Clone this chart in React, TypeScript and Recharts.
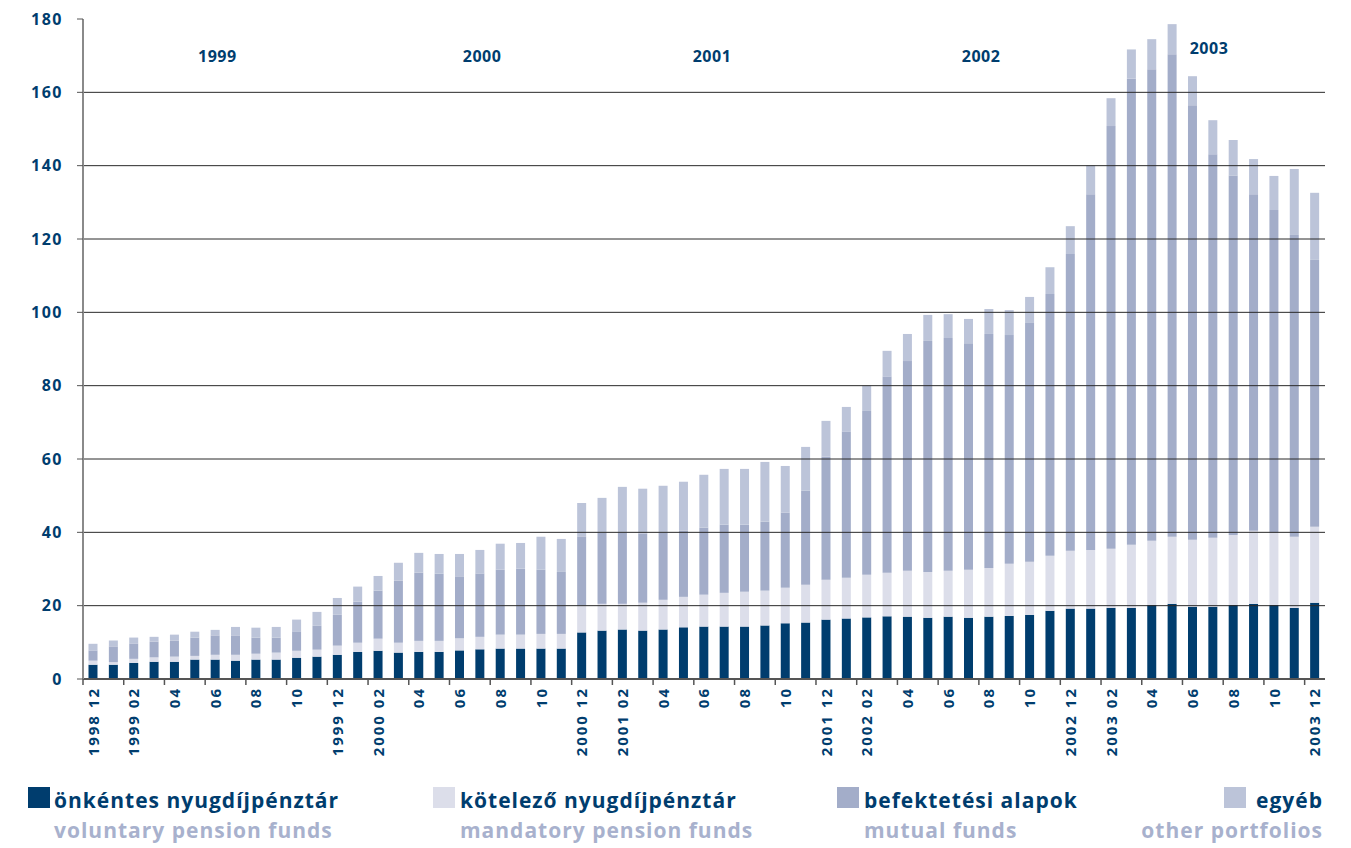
import React from "react";
import { BarChart, Bar, XAxis, YAxis, ReferenceLine, ReferenceDot } from "recharts";

const months = [
  "1998 12",
  "1999 01", "1999 02", "1999 03", "1999 04", "1999 05", "1999 06", "1999 07", "1999 08", "1999 09", "1999 10", "1999 11", "1999 12",
  "2000 01", "2000 02", "2000 03", "2000 04", "2000 05", "2000 06", "2000 07", "2000 08", "2000 09", "2000 10", "2000 11", "2000 12",
  "2001 01", "2001 02", "2001 03", "2001 04", "2001 05", "2001 06", "2001 07", "2001 08", "2001 09", "2001 10", "2001 11", "2001 12",
  "2002 01", "2002 02", "2002 03", "2002 04", "2002 05", "2002 06", "2002 07", "2002 08", "2002 09", "2002 10", "2002 11", "2002 12",
  "2003 01", "2003 02", "2003 03", "2003 04", "2003 05", "2003 06", "2003 07", "2003 08", "2003 09", "2003 10", "2003 11", "2003 12",
];

// önkéntes nyugdíjpénztár / voluntary pension funds
const voluntary = [
  3.9, 3.9, 4.4, 4.7, 4.7, 5.3, 5.3, 5.0, 5.3, 5.3, 5.8, 6.1, 6.6,
  7.4, 7.7, 7.2, 7.4, 7.4, 7.8, 8.1, 8.3, 8.3, 8.3, 8.3, 12.7,
  13.2, 13.5, 13.2, 13.5, 14.1, 14.3, 14.3, 14.3, 14.6, 15.2, 15.4, 16.2,
  16.5, 16.8, 17.1, 17.0, 16.7, 17.0, 16.7, 17.0, 17.2, 17.5, 18.6, 19.2,
  19.2, 19.4, 19.4, 20.2, 20.5, 19.7, 19.7, 20.2, 20.5, 20.2, 19.4, 20.8,
];

// kötelező nyugdíjpénztár / mandatory pension funds
const mandatory = [
  1.1, 0.7, 1.1, 1.2, 1.4, 1.0, 1.3, 1.6, 1.6, 1.9, 1.9, 1.9, 2.5,
  2.5, 3.3, 2.7, 3.0, 3.0, 3.3, 3.4, 3.8, 3.8, 4.0, 4.0, 7.3,
  7.3, 7.0, 7.6, 8.1, 8.3, 8.7, 9.2, 9.5, 9.5, 9.7, 10.3, 10.9,
  11.1, 11.6, 11.9, 12.5, 12.5, 12.5, 13.1, 13.3, 14.2, 14.5, 15.0, 15.8,
  16.0, 16.1, 17.2, 17.5, 18.3, 18.3, 18.8, 19.1, 19.9, 19.7, 19.4, 20.7,
];

// befektetési alapok / mutual funds
const mutual = [
  2.8, 4.3, 4.2, 4.3, 4.4, 5.0, 5.3, 5.3, 4.4, 4.1, 5.3, 6.5, 8.4,
  11.2, 13.1, 16.9, 18.6, 18.3, 16.9, 17.3, 17.7, 18.0, 17.5, 16.9, 18.9,
  19.5, 19.5, 18.9, 18.4, 18.1, 18.3, 18.6, 18.3, 18.8, 20.5, 25.7, 33.6,
  39.8, 44.7, 53.4, 57.2, 63.0, 63.5, 61.8, 63.8, 62.4, 65.1, 71.4, 80.9,
  97.0, 115.3, 127.2, 128.6, 131.6, 118.5, 104.6, 98.0, 91.8, 88.0, 82.3, 72.8,
];

// egyéb / other portfolios
const other = [
  1.8, 1.6, 1.6, 1.3, 1.6, 1.6, 1.5, 2.3, 2.7, 2.9, 3.2, 3.8, 4.6,
  4.1, 4.0, 4.9, 5.4, 5.4, 6.1, 6.4, 7.1, 7.0, 9.0, 9.0, 9.1,
  9.4, 12.4, 12.2, 12.7, 13.3, 14.4, 15.2, 15.2, 16.3, 12.7, 11.9, 9.7,
  6.8, 6.9, 7.1, 7.4, 7.1, 6.5, 6.6, 6.8, 6.8, 7.1, 7.3, 7.6,
  7.9, 7.6, 7.9, 8.2, 8.2, 7.9, 9.3, 9.7, 9.6, 9.3, 18.0, 18.3,
];

const yTicks = [0, 20, 40, 60, 80, 100, 120, 140, 160, 180];

const yearLabels = [
  { year: "1999", at: "1999 06", y: 170, dx: 2 },
  { year: "2000", at: "2000 07", y: 170, dx: 2 },
  { year: "2001", at: "2001 06", y: 170, dx: 8 },
  { year: "2002", at: "2002 08", y: 170, dx: -8 },
  { year: "2003", at: "2003 07", y: 172, dx: -4 },
];

const legendItems = [
  { hu: "önkéntes nyugdíjpénztár", en: "voluntary pension funds", color: "#003d6e" },
  { hu: "kötelező nyugdíjpénztár", en: "mandatory pension funds", color: "#dcdeea" },
  { hu: "befektetési alapok", en: "mutual funds", color: "#a3adc9" },
  { hu: "egyéb", en: "other portfolios", color: "#bcc4d9" },
];

const data = months.map((m, i) => ({
  month: m,
  voluntary: voluntary[i],
  mandatory: mandatory[i],
  mutual: mutual[i],
  other: other[i],
}));

const NAVY = "#003d6e";
const FONT = "'Open Sans', Lato, sans-serif";
const W = 1351;
const H = 848;
const M = { top: 19, right: 26, bottom: 69, left: 0 };
const Y_W = 83;
const BAND = (W - M.left - M.right - Y_W) / months.length;

function tickLabel(m: string) {
  const mo = m.split(" ")[1];
  return mo === "12" || mo === "02" ? m : mo;
}

// month labels are rotated, tick marks sit between category pairs
function MonthTick(props: any) {
  const { x, y, payload } = props;
  const lx = x - BAND / 2;
  return (
    <g>
      <line x1={lx} x2={lx} y1={y} y2={y + 6} stroke="#555" strokeWidth={1.5} />
      <text
        transform={`translate(${x},${y + 8}) rotate(-90)`}
        textAnchor="end"
        dy="0.36em"
        fill={NAVY}
        fontSize={15}
        fontWeight={700}
        letterSpacing={2}
        fontFamily={FONT}
      >
        {tickLabel(payload.value)}
      </text>
    </g>
  );
}

function yearContent(text: string, dx: number) {
  return (p: any) => {
    const vb = p.viewBox || {};
    const cx = (vb.x ?? 0) + (vb.width ?? 0) / 2 + dx;
    const cy = (vb.y ?? 0) + (vb.height ?? 0) / 2;
    return (
      <text
        x={cx}
        y={cy}
        textAnchor="middle"
        dominantBaseline="central"
        fill={NAVY}
        fontSize={16}
        fontWeight={700}
        letterSpacing={0.5}
        fontFamily={FONT}
      >
        {text}
      </text>
    );
  };
}

function LegendRow() {
  const slots = [
    { sx: 28, tx: 54, anchor: "start" },
    { sx: 433, tx: 460, anchor: "start" },
    { sx: 837, tx: 864, anchor: "start" },
    { sx: 1224, tx: 1323, anchor: "end" },
  ];
  return (
    <svg width={W} height={H} style={{ position: "absolute", left: 0, top: 0, pointerEvents: "none" }}>
      {legendItems.map((it, i) => {
        const s = slots[i];
        return (
          <g key={it.en} fontFamily={FONT} fontWeight={700} fontSize={21} letterSpacing={1}>
            <rect x={s.sx} y={787} width={22} height={21} fill={it.color} />
            <text x={s.tx} y={808} fill={NAVY} textAnchor={s.anchor as any}>
              {it.hu}
            </text>
            <text x={s.tx} y={838} fill="#a8b1cd" textAnchor={s.anchor as any}>
              {it.en}
            </text>
          </g>
        );
      })}
    </svg>
  );
}

export default function App() {
  return (
    <div style={{ position: "absolute", left: 0, top: 0, width: W, height: H, background: "#fff", fontFamily: FONT }}>
      <BarChart width={W} height={H} data={data} margin={M} barCategoryGap="27%">
        <XAxis
          dataKey="month"
          interval={1}
          tickSize={0}
          tickMargin={0}
          tickLine={false}
          tick={<MonthTick />}
          axisLine={{ stroke: "#555", strokeWidth: 2 }}
          height={100}
        />
        <XAxis xAxisId="top" dataKey="month" orientation="top" height={0} tick={false} tickLine={false} axisLine={{ stroke: "#9a9a9a", strokeWidth: 2 }} />
        <YAxis
          domain={[0, 180]}
          ticks={yTicks}
          width={Y_W}
          tickSize={6}
          tickMargin={14}
          tickLine={{ stroke: "#555" }}
          axisLine={{ stroke: "#8a8a8a", strokeWidth: 2 }}
          tick={{ fill: NAVY, fontSize: 16, fontWeight: 700, fontFamily: FONT, letterSpacing: 1.5 }}
        />
        <YAxis yAxisId="r" orientation="right" width={0} tick={false} tickLine={false} axisLine={{ stroke: "#9a9a9a", strokeWidth: 2 }} />
        <Bar dataKey="voluntary" stackId="a" fill="#003d6e" isAnimationActive={false} />
        <Bar dataKey="mandatory" stackId="a" fill="#dcdeea" isAnimationActive={false} />
        <Bar dataKey="mutual" stackId="a" fill="#a3adc9" isAnimationActive={false} />
        <Bar dataKey="other" stackId="a" fill="#bcc4d9" isAnimationActive={false} />
        {yTicks.slice(1, -1).map((t) => (
          <ReferenceLine key={t} y={t} stroke="#2a2a2a" strokeWidth={1} />
        ))}
        {yearLabels.map((l) => (
          <ReferenceDot
            key={l.year}
            x={l.at}
            y={l.y}
            r={1}
            fill="none"
            stroke="none"
            label={{ content: yearContent(l.year, l.dx) }}
          />
        ))}
      </BarChart>
      <LegendRow />
    </div>
  );
}
